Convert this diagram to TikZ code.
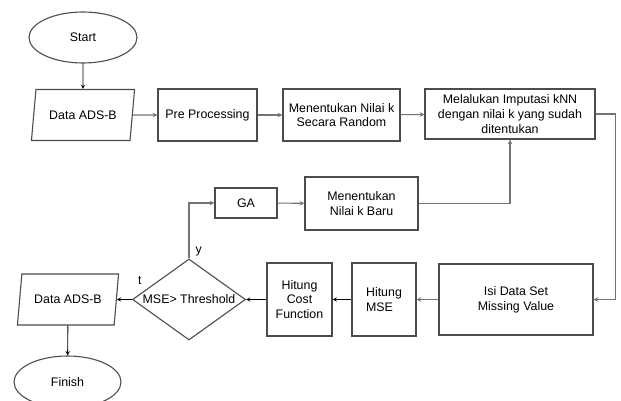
\documentclass[tikz,border=0pt]{standalone}
\usepackage{fontspec}
\setmainfont{Liberation Sans}
\usetikzlibrary{shapes.geometric}

\tikzset{
	flowbox/.style={draw=black!70, line width=1.1pt, rectangle, align=center, inner sep=2pt},
	ovalbox/.style={draw=black!70, line width=1.1pt, ellipse, minimum width=108, minimum height=51},
	databox/.style={draw=black!70, line width=1.1pt, trapezium, trapezium left angle=77, trapezium right angle=103, trapezium stretches=true, minimum width=104, minimum height=51},
	askbox/.style={draw=black!70, line width=1.1pt, diamond, aspect=1.4, inner sep=0pt, minimum width=113, minimum height=81},
	grayline/.style={draw=black!55, line width=1.1pt, ->, >=stealth},
	blackline/.style={draw=black, line width=0.9pt, ->, >=stealth}
}

\begin{document}
\begin{tikzpicture}[x=1pt, y=-1pt, font=\fontsize{12.4}{14.6}\selectfont]
			%%%%% START %%%%%
			
			\useasboundingbox (0, 0) rectangle (621, 401);
			
			\node[ovalbox] (start) at (83, 37.5) {Start};
			\node[databox] (data1) at (83, 115) {Data ADS-B};
			\node[flowbox, minimum width=99, minimum height=52] (pre) at (207.5, 115) {Pre Processing};
			\node[flowbox, minimum width=117, minimum height=52] (random) at (341.5, 115) {Menentukan Nilai k\\Secara Random};
			\node[flowbox, minimum width=170, minimum height=50] (knn) at (510, 114) {Melalukan Imputasi kNN\\dengan nilai k yang sudah\\ditentukan};
			
			\node[flowbox, minimum width=62, minimum height=30] (ga) at (246, 203) {GA};
			\node[flowbox, minimum width=113, minimum height=53] (baru) at (361.5, 203.5) {Menentukan\\Nilai k Baru};
			
			\node[flowbox, minimum width=154, minimum height=71] (isi) at (516, 299.5) {Isi Data Set\\Missing Value};
			\node[flowbox, minimum width=64, minimum height=73, align=left] (mse) at (384, 299.5) {Hitung\\MSE};
			\node[flowbox, minimum width=65, minimum height=73] (cost) at (299.5, 299.5) {Hitung\\Cost\\Function};
			\node[askbox] (cek) at (189, 299.5) {MSE> Threshold};
			\node[databox, minimum width=102] (data2) at (68, 299.5) {Data ADS-B};
			\node[ovalbox, minimum width=107, minimum height=52] (finish) at (67.5, 382) {Finish};
			
			\draw[blackline] (start) -- (data1);
			\draw[grayline] (data1) -- (pre);
			\draw[grayline] (pre) -- (random);
			\draw[grayline] (random) -- (knn);
			\draw[grayline] (knn.east) -- ++(20, 0) |- (isi.east);
			\draw[grayline] (isi) -- (mse);
			\draw[blackline] (mse) -- (cost);
			\draw[blackline] (cost) -- (cek);
			\draw[blackline] (cek) -- (data2);
			\draw[grayline] (cek.north) |- (ga.west);
			\draw[grayline] (ga) -- (baru);
			\draw[grayline] (baru.east) -| (knn.south);
			\draw[blackline] (data2) -- (finish);
			
			\node[anchor=south west] (lbly) at ([xshift=3, yshift=-1]cek.north) {y};
			\node[anchor=south] (lblt) at ([xshift=8, yshift=11]cek.west) {t};
			
			%%%%% END %%%%%
		\end{tikzpicture}
\end{document}
